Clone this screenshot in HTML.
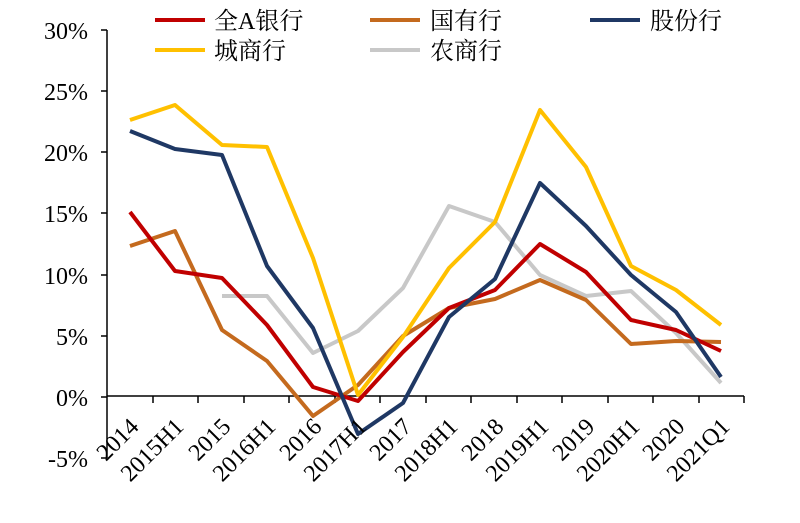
<!DOCTYPE html>
<html><head><meta charset="utf-8"><style>body{margin:0;background:#fff}</style></head><body>
<svg width="800" height="518" xmlns="http://www.w3.org/2000/svg" font-family="'Liberation Serif','Noto Serif CJK SC',serif">
<g font-size="24" text-anchor="end" fill="#000">
<text x="88" y="39">30%</text><text x="88" y="100">25%</text><text x="88" y="161">20%</text><text x="88" y="222">15%</text><text x="88" y="284">10%</text><text x="88" y="345">5%</text><text x="88" y="406">0%</text><text x="88" y="467">-5%</text>
</g>
<line x1="107" y1="30" x2="107" y2="458" stroke="#000" stroke-width="1.5"/>
<g stroke="#000" stroke-width="1.5"><line x1="101" y1="30" x2="107" y2="30"/><line x1="101" y1="91" x2="107" y2="91"/><line x1="101" y1="152" x2="107" y2="152"/><line x1="101" y1="213" x2="107" y2="213"/><line x1="101" y1="275" x2="107" y2="275"/><line x1="101" y1="336" x2="107" y2="336"/><line x1="101" y1="397" x2="107" y2="397"/><line x1="101" y1="458" x2="107" y2="458"/></g>
<line x1="107" y1="396" x2="744" y2="396" stroke="#000" stroke-width="1.5"/>
<g stroke="#000" stroke-width="1.5">
<line x1="153" y1="396" x2="153" y2="403"/><line x1="198" y1="396" x2="198" y2="403"/><line x1="244" y1="396" x2="244" y2="403"/><line x1="289" y1="396" x2="289" y2="403"/><line x1="335" y1="396" x2="335" y2="403"/><line x1="380" y1="396" x2="380" y2="403"/><line x1="426" y1="396" x2="426" y2="403"/><line x1="471" y1="396" x2="471" y2="403"/><line x1="517" y1="396" x2="517" y2="403"/><line x1="562" y1="396" x2="562" y2="403"/><line x1="608" y1="396" x2="608" y2="403"/><line x1="653" y1="396" x2="653" y2="403"/><line x1="699" y1="396" x2="699" y2="403"/><line x1="744" y1="396" x2="744" y2="403"/>
</g>
<g fill="none" stroke-width="4" stroke-linejoin="round">
<polyline stroke="#c8c8c8" points="222,296 267,296 313,353 358,331 403,288 449,206 495,222 540,275 586,296 631,291 676,333 721,383"/>
<polyline stroke="#c46a1e" points="130,246 175,231 222,330 267,361 313,416 358,385 403,336 449,308 495,299 540,280 586,300 631,344 676,341 721,342"/>
<polyline stroke="#c00000" points="130,212 175,271 222,278 267,325 313,387 358,401 403,352 449,308 495,290 540,244 586,272 631,320 676,330 721,351"/>
<polyline stroke="#ffc000" points="130,120 175,105 222,145 267,147 313,258 358,395 403,337 449,268 495,222 540,110 586,167 631,266 676,290 721,325"/>
<polyline stroke="#1f3864" points="130,131 175,149 222,155 267,266 313,328 358,434 403,403 449,317 495,279 540,183 586,226 631,275 676,312 721,377"/>
</g>
<g font-size="24" text-anchor="end">
<text transform="translate(140,428) rotate(-45)">2014</text>
<text transform="translate(185,428) rotate(-45)">2015H1</text>
<text transform="translate(232,428) rotate(-45)">2015</text>
<text transform="translate(277,428) rotate(-45)">2016H1</text>
<text transform="translate(323,428) rotate(-45)">2016</text>
<text transform="translate(368,428) rotate(-45)">2017H1</text>
<text transform="translate(413,428) rotate(-45)">2017</text>
<text transform="translate(459,428) rotate(-45)">2018H1</text>
<text transform="translate(505,428) rotate(-45)">2018</text>
<text transform="translate(550,428) rotate(-45)">2019H1</text>
<text transform="translate(596,428) rotate(-45)">2019</text>
<text transform="translate(641,428) rotate(-45)">2020H1</text>
<text transform="translate(686,428) rotate(-45)">2020</text>
<text transform="translate(731,428) rotate(-45)">2021Q1</text>
</g>
<g stroke-width="4">
<line x1="155" y1="20" x2="205" y2="20" stroke="#c00000"/>
<line x1="370" y1="20" x2="420" y2="20" stroke="#c46a1e"/>
<line x1="590" y1="20" x2="640" y2="20" stroke="#1f3864"/>
<line x1="155" y1="50" x2="205" y2="50" stroke="#ffc000"/>
<line x1="370" y1="50" x2="420" y2="50" stroke="#c8c8c8"/>
</g>
<g font-size="24">
<text x="214" y="29">全A银行</text><text x="430" y="29">国有行</text><text x="650" y="29">股份行</text>
<text x="214" y="59">城商行</text><text x="430" y="59">农商行</text>
</g>
</svg>
</body></html>
